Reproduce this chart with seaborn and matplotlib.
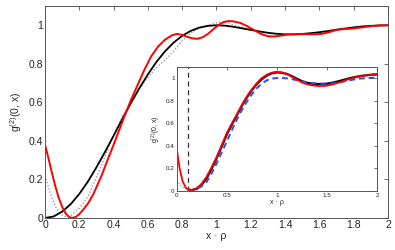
import pandas as pd
import matplotlib
matplotlib.use("Agg")
import matplotlib.pyplot as plt
import seaborn as sns

# main panel: black = exact curve, red = approximation, dotted = coarse approximation
black_x = [0, 0.05, 0.1, 0.15, 0.2, 0.25, 0.3, 0.35, 0.4, 0.45, 0.5, 0.55, 0.6, 0.65, 0.7, 0.75,
           0.8, 0.85, 0.9, 0.95, 1.0, 1.05, 1.1, 1.15, 1.2, 1.25, 1.3, 1.35, 1.4, 1.45, 1.5, 1.55,
           1.6, 1.65, 1.7, 1.75, 1.8, 1.85, 1.9, 1.95, 2.0]
black_y = [0, 0.008, 0.033, 0.072, 0.125, 0.189, 0.263, 0.343, 0.427, 0.512, 0.595, 0.673, 0.745,
           0.81, 0.865, 0.91, 0.945, 0.971, 0.988, 0.997, 1.0, 0.998, 0.992, 0.984, 0.976, 0.968,
           0.961, 0.956, 0.953, 0.953, 0.955, 0.959, 0.964, 0.97, 0.977, 0.983, 0.989, 0.994,
           0.997, 0.999, 1.0]

red_x = [0, 0.02, 0.04, 0.06, 0.08, 0.1, 0.12, 0.14, 0.16, 0.18, 0.2, 0.22, 0.25, 0.28, 0.3, 0.33,
         0.36, 0.4, 0.43, 0.46, 0.5, 0.54, 0.58, 0.62, 0.66, 0.7, 0.74, 0.77, 0.8, 0.83, 0.86, 0.89,
         0.92, 0.95, 0.98, 1.01, 1.04, 1.07, 1.1, 1.14, 1.18, 1.22, 1.26, 1.3, 1.34, 1.38, 1.42,
         1.5, 1.58, 1.62, 1.66, 1.7, 1.74, 1.78, 1.84, 1.9, 1.95, 2.0]
red_y = [0.38, 0.31, 0.235, 0.165, 0.105, 0.058, 0.024, 0.005, 0.0, 0.006, 0.02, 0.04, 0.075, 0.12,
         0.16, 0.22, 0.29, 0.38, 0.45, 0.52, 0.61, 0.69, 0.77, 0.84, 0.89, 0.925, 0.948, 0.955,
         0.95, 0.94, 0.932, 0.93, 0.938, 0.955, 0.978, 1.0, 1.016, 1.022, 1.02, 1.012, 0.995,
         0.975, 0.955, 0.943, 0.942, 0.947, 0.952, 0.954, 0.953, 0.956, 0.965, 0.976, 0.98,
         0.982, 0.988, 0.995, 0.999, 1.0]

dot_x = [0, 0.03, 0.06, 0.09, 0.12, 0.15, 0.2, 0.25, 0.3, 0.35, 0.4, 0.45, 0.5, 0.55, 0.6, 0.65,
         0.7, 0.75, 0.8, 0.85, 0.9, 0.95, 1.0, 1.05, 1.1, 1.15, 1.2]
dot_y = [0.22, 0.13, 0.06, 0.02, 0.008, 0.012, 0.05, 0.11, 0.21, 0.32, 0.43, 0.525, 0.6, 0.67,
         0.73, 0.78, 0.82, 0.865, 0.92, 0.96, 0.985, 1.0, 1.012, 1.02, 1.0, 0.988, 0.976]

# inset
in_red_x = [0, 0.03, 0.06, 0.09, 0.12, 0.15, 0.2, 0.25, 0.3, 0.35, 0.4, 0.45, 0.5, 0.55, 0.6, 0.65,
            0.7, 0.75, 0.8, 0.85, 0.9, 0.95, 1.0, 1.05, 1.1, 1.15, 1.2, 1.25, 1.3, 1.35, 1.4, 1.45,
            1.5, 1.55, 1.6, 1.65, 1.7, 1.75, 1.8, 1.85, 1.9, 1.95, 2.0]
in_red_y = [0.386, 0.2, 0.085, 0.03, 0.006, 0.006, 0.021, 0.06, 0.125, 0.21, 0.3, 0.405, 0.51,
            0.595, 0.675, 0.76, 0.836, 0.9, 0.955, 1.0, 1.03, 1.048, 1.055, 1.05, 1.035, 1.01,
            0.985, 0.96, 0.945, 0.935, 0.93, 0.928, 0.932, 0.942, 0.955, 0.97, 0.985, 0.998,
            1.01, 1.018, 1.024, 1.028, 1.03]

in_black_x = in_red_x[4:]
in_black_y = [0.01, 0.006, 0.016, 0.052, 0.112, 0.196, 0.29, 0.393, 0.498, 0.585, 0.668, 0.752,
              0.828, 0.892, 0.947, 0.99, 1.022, 1.042, 1.05, 1.046, 1.036, 1.016, 0.993, 0.972,
              0.958, 0.95, 0.947, 0.947, 0.95, 0.958, 0.968, 0.98, 0.992, 1.003, 1.012, 1.02,
              1.025, 1.03, 1.032]

in_blue_x = [0.12, 0.15, 0.2, 0.25, 0.3, 0.35, 0.4, 0.45, 0.5, 0.55, 0.6, 0.65, 0.7, 0.75, 0.8,
             0.85, 0.9, 0.95, 1.0, 1.05, 1.1, 1.15, 1.2, 1.25, 1.3, 1.35, 1.4, 1.45, 1.5, 1.55,
             1.6, 1.65, 1.7, 1.75, 1.8, 1.85, 1.9, 1.95, 2.0]
in_blue_y = [0.0, 0.003, 0.015, 0.04, 0.08, 0.155, 0.244, 0.34, 0.436, 0.535, 0.63, 0.715, 0.79,
             0.855, 0.91, 0.952, 0.98, 0.995, 1.0, 1.0, 0.997, 0.99, 0.98, 0.97, 0.962, 0.955,
             0.952, 0.95, 0.95, 0.953, 0.958, 0.966, 0.975, 0.984, 0.992, 0.997, 1.0, 1.0, 1.0]

in_dot_x = [0, 0.05, 0.1, 0.15, 0.2, 0.25, 0.3, 0.35, 0.4]
in_dot_y = [0.09, 0.04, 0.012, 0.01, 0.03, 0.07, 0.13, 0.2, 0.29]

cutoff = 0.11

main_xticks = [0, 0.2, 0.4, 0.6, 0.8, 1, 1.2, 1.4, 1.6, 1.8, 2]
main_xlabels = ["0", "0.2", "0.4", "0.6", "0.8", "1", "1.2", "1.4", "1.6", "1.8", "2"]
yticks = [0, 0.2, 0.4, 0.6, 0.8, 1]
ylabels = ["0", "0.2", "0.4", "0.6", "0.8", "1"]
in_xticks = [0, 0.5, 1, 1.5, 2]
in_xlabels = ["0", "0.5", "1", "1.5", "2"]

sns.set_style("white")
plt.rcParams["font.family"] = ["Liberation Sans", "DejaVu Sans"]
plt.rcParams["mathtext.fontset"] = "custom"
plt.rcParams["mathtext.rm"] = "Liberation Sans"
plt.rcParams["mathtext.it"] = "Liberation Sans"

fig = plt.figure(figsize=(3.95, 2.5), dpi=100)
ax = fig.add_axes([0.114, 0.128, 0.868, 0.848])
ins = fig.add_axes([0.447, 0.237, 0.508, 0.496])


def style_axes(a, fs, tl):
    for s in a.spines.values():
        s.set_color("#555555")
        s.set_linewidth(0.7)
    a.tick_params(direction="in", top=True, right=True, length=tl, width=0.6,
                  labelsize=fs, colors="#555555", labelcolor="#222222", pad=1.5)


sns.lineplot(x=dot_x, y=dot_y, ax=ax, color="#888888", lw=0.9, linestyle=":", sort=False, estimator=None)
sns.lineplot(x=black_x, y=black_y, ax=ax, color="black", lw=1.3, sort=False, estimator=None)
sns.lineplot(x=red_x, y=red_y, ax=ax, color="red", lw=1.4, sort=False, estimator=None)
ax.set_xlim(0, 2)
ax.set_ylim(0, 1.1)
ax.set_xticks(main_xticks, main_xlabels)
ax.set_yticks(yticks, ylabels)
ax.set_xlabel("x · ρ", fontsize=7.5, labelpad=1)
ax.set_ylabel(r"g$^{(2)}$(0, x)", fontsize=7.5, labelpad=3)
style_axes(ax, 7.5, 3)

ins.set_facecolor("white")
sns.lineplot(x=in_dot_x, y=in_dot_y, ax=ins, color="#888888", lw=0.8, linestyle=":", sort=False, estimator=None)
ins.axvline(cutoff, color="#333333", lw=0.9, linestyle=(0, (4, 3)))
sns.lineplot(x=in_black_x, y=in_black_y, ax=ins, color="black", lw=1.6, sort=False, estimator=None)
sns.lineplot(x=in_blue_x, y=in_blue_y, ax=ins, color="#2a4bf0", lw=1.4, linestyle=(0, (3, 2)), sort=False, estimator=None)
sns.lineplot(x=in_red_x, y=in_red_y, ax=ins, color="red", lw=1.3, sort=False, estimator=None)
ins.set_xlim(0, 2)
ins.set_ylim(0, 1.1)
ins.set_xticks(in_xticks, in_xlabels)
ins.set_yticks(yticks, ylabels)
ins.set_xlabel("x · ρ", fontsize=5, labelpad=1)
ins.set_ylabel(r"g$^{(2)}$(0, x)", fontsize=5, labelpad=2)
style_axes(ins, 4.5, 2)

fig.savefig("out.png", dpi=100)
